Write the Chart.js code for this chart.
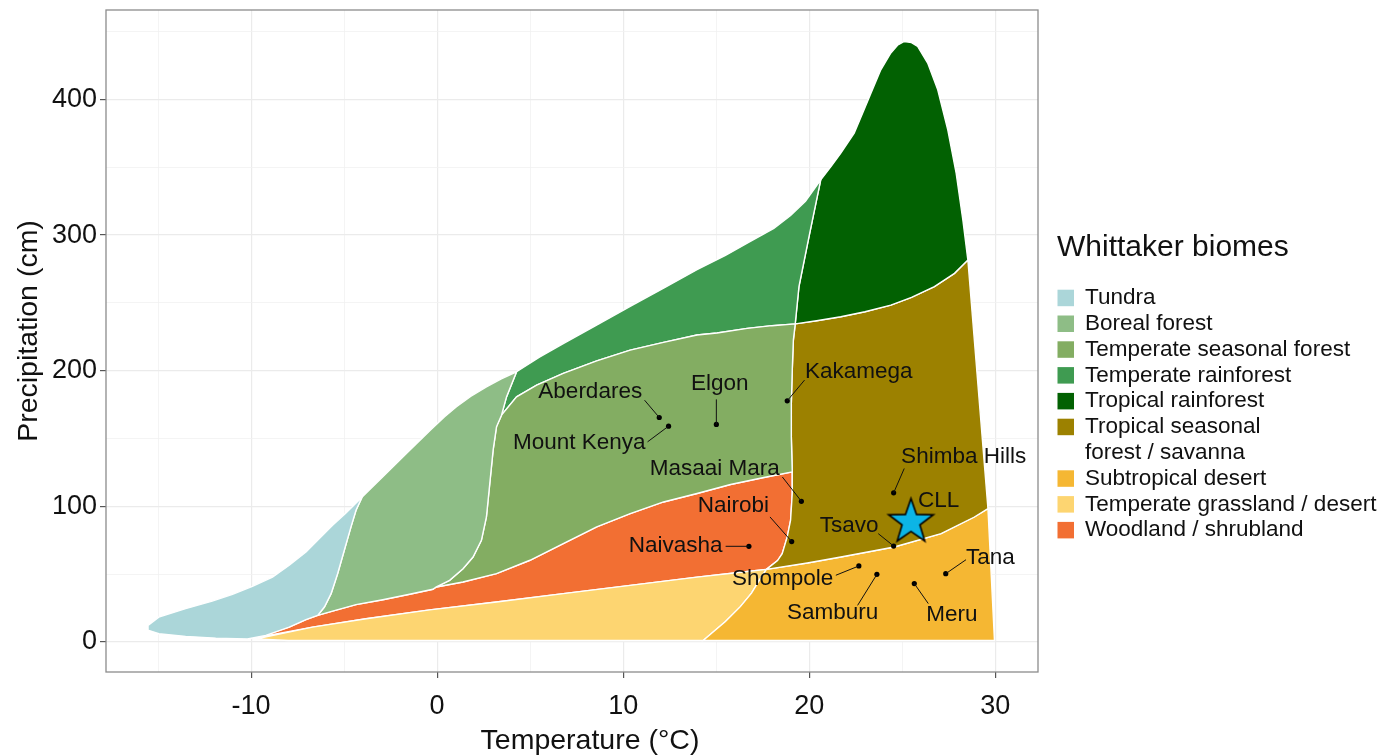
<!DOCTYPE html>
<html>
<head>
<meta charset="utf-8">
<script src="https://cdn.jsdelivr.net/npm/chart.js@4.4.0/dist/chart.umd.min.js"></script>
<style>
html,body{margin:0;padding:0;background:#ffffff;}
#wrap{width:1394px;height:755px;position:relative;}
</style>
</head>
<body>
<div id="wrap"><canvas id="c" width="1394" height="755"></canvas></div>
<script>
// ---------------- DATA ----------------
// Biome outlines: [temperature (°C), precipitation (cm)]
const tundra = [[-15.54,12.2],[-14.96,18.3],[-13.52,24.5],[-12.09,30.1],[-11.0,35.1],[-9.93,41.0],[-8.85,47.8],[-7.95,56.5],[-7.05,66.3],[-6.33,76.2],[-5.62,86.0],[-4.9,95.1],[-4.03,106.9],[-4.36,97.1],[-4.63,84.8],[-4.99,67.6],[-5.35,50.3],[-5.7,35.6],[-6.06,25.7],[-6.42,19.6],[-7.05,16.4],[-7.95,10.9],[-9.21,4.8],[-10.2,2.1],[-11.9,2.8],[-13.52,4.1],[-14.96,6.0],[-15.5,8.5]];
const borealForest = [[-6.42,19.6],[-6.06,25.7],[-5.7,35.6],[-5.35,50.3],[-4.99,67.6],[-4.63,84.8],[-4.36,97.1],[-4.03,106.9],[-2.92,121.8],[-1.5,141.0],[-0.3,157.0],[0.4,166.0],[1.04,173.4],[1.8,181.0],[2.65,188.1],[3.45,194.0],[4.27,199.2],[3.73,180.7],[3.46,167.2],[3.19,158.6],[3.01,141.4],[2.83,116.8],[2.65,92.1],[2.38,74.9],[1.93,62.6],[1.39,54.0],[0.67,45.4],[-0.04,40.5],[-0.23,38.8],[-1.48,35.1],[-2.92,31.1],[-4.36,27.5],[-5.62,22.7]];
const temperateSeasonalForest = [[-0.04,40.5],[0.67,45.4],[1.39,54.0],[1.93,62.6],[2.38,74.9],[2.65,92.1],[2.83,116.8],[3.01,141.4],[3.19,158.6],[3.46,167.2],[4.27,180.7],[5.35,189.4],[6.78,198.0],[8.58,207.3],[10.38,215.2],[12.17,220.9],[13.97,226.3],[15.05,227.8],[16.67,231.2],[18.0,233.2],[19.25,234.5],[19.15,222.6],[19.09,200.4],[19.04,175.9],[19.04,151.2],[19.09,125.4],[17.56,121.2],[15.77,116.1],[13.97,109.4],[12.17,103.2],[10.38,94.6],[8.58,84.8],[6.78,72.5],[4.99,60.2],[3.19,50.3],[1.39,44.2]];
const temperateRainforest = [[3.46,167.2],[3.73,180.7],[4.27,199.2],[5.5,210.0],[6.78,220.0],[8.5,233.0],[10.38,247.5],[12.2,261.0],[13.97,274.5],[15.5,285.0],[16.67,294.0],[18.1,305.0],[19.0,314.5],[19.8,325.0],[20.62,340.7],[19.99,298.9],[19.45,262.0],[19.25,234.5],[18.0,233.2],[16.67,231.2],[15.05,227.8],[13.97,226.3],[12.17,220.9],[10.38,215.2],[8.58,207.3],[6.78,198.0],[5.35,189.4],[4.27,180.7]];
const tropicalRainforest = [[19.25,234.5],[19.45,262.0],[19.99,298.9],[20.62,340.7],[21.2,351.0],[21.7,360.4],[22.42,375.2],[22.95,392.4],[23.32,404.7],[23.85,421.9],[24.39,434.3],[24.75,440.0],[25.11,442.8],[25.5,442.0],[25.83,439.1],[26.37,426.9],[26.91,407.2],[27.45,377.6],[27.9,345.7],[28.26,311.2],[28.53,281.6],[27.81,271.8],[26.73,262.0],[25.5,254.0],[24.39,248.4],[23.0,243.5],[21.7,239.8],[20.4,236.8]];
const tropicalSeasonalForest = [[17.7,53.5],[18.3,60.0],[18.55,65.1],[18.82,77.4],[19.0,89.7],[19.09,109.4],[19.09,125.4],[19.04,151.2],[19.04,175.9],[19.09,200.4],[19.15,222.6],[19.25,234.5],[20.4,236.8],[21.7,239.8],[23.0,243.5],[24.39,248.4],[25.5,254.0],[26.73,262.0],[27.81,271.8],[28.53,281.6],[29.61,98.3],[28.88,92.1],[27.09,79.9],[24.57,70.0],[21.7,62.6],[19.9,58.2]];
const subtropicalDesert = [[17.7,53.5],[19.9,58.2],[21.7,62.6],[24.57,70.0],[27.09,79.9],[28.88,92.1],[29.61,98.3],[29.96,1.0],[14.3,1.0],[14.9,8.0],[15.5,15.0],[16.3,26.0],[16.9,36.0],[17.3,45.0]];
const temperateGrassland = [[-9.7,2.2],[-6.7,10.9],[-3.82,17.1],[-0.4,23.6],[3.19,29.4],[6.78,35.6],[10.38,41.7],[13.97,47.8],[16.2,51.2],[17.7,53.5],[17.3,45.0],[16.9,36.0],[16.3,26.0],[15.5,15.0],[14.9,8.0],[14.3,1.0],[-8.0,1.0]];
const woodlandShrubland = [[-9.6,3.4],[-7.95,10.9],[-7.05,16.4],[-6.42,19.6],[-5.62,22.7],[-4.36,27.5],[-2.92,31.1],[-1.48,35.1],[-0.23,38.8],[-0.04,40.5],[1.39,44.2],[3.19,50.3],[4.99,60.2],[6.78,72.5],[8.58,84.8],[10.38,94.6],[12.17,103.2],[13.97,109.4],[15.77,116.1],[17.56,121.2],[19.09,125.4],[19.09,109.4],[19.0,89.7],[18.82,77.4],[18.55,65.1],[18.3,60.0],[17.7,53.5],[16.2,51.2],[13.97,47.8],[10.38,41.7],[6.78,35.6],[3.19,29.4],[-0.4,23.6],[-3.82,17.1],[-6.7,10.9]];

const biomeNames = ["Tundra","Boreal forest","Temperate seasonal forest","Temperate rainforest","Tropical rainforest",["Tropical seasonal","forest / savanna"],"Subtropical desert","Temperate grassland / desert","Woodland / shrubland"];
const biomeOutlines = [tundra, borealForest, temperateSeasonalForest, temperateRainforest, tropicalRainforest, tropicalSeasonalForest, subtropicalDesert, temperateGrassland, woodlandShrubland];

// Study sites
const siteNames = ["Aberdares","Mount Kenya","Elgon","Kakamega","Masaai Mara","Nairobi","Naivasha","Tsavo","Shimba Hills","Shompole","Samburu","Meru","Tana"];
const siteTemp = [11.94,12.44,15.01,18.82,19.58,19.06,16.76,24.54,24.54,22.67,23.64,25.65,27.34];
const sitePrecip = [165.5,159.1,160.4,177.8,103.7,74.0,70.5,70.7,109.9,56.0,49.8,43.0,50.3];
const cllName = "CLL";
const cllTemp = [25.47];
const cllPrecip = [88.4];

// Axis ticks
const xTickLabels = [-10,0,10,20,30];
const xMinorTicks = [-15,-5,5,15,25];
const yTickLabels = [0,100,200,300,400];
const yMinorTicks = [50,150,250,350,450];

// ---------------- STYLE / LAYOUT ----------------
const biomeColors = ["#abd6d9","#8ebd86","#83ad62","#3f9b51","#026102","#9c8100","#f5b733","#fdd571","#f26f33"];
const FONT = '"Liberation Sans", Arial, Helvetica, sans-serif';
// label placement (pixel offsets from the site point): text centre, leader start
const labelOffsets = [[-69,-25.6],[-89.3,16.7],[3.3,-41],[71.6,-29],[-86.7,-32.7],[-58.3,-35.3],[-73.3,-1],[-44.4,-20.7],[70,-36],[-76.3,12.6],[-44.3,38.7],[37.7,31.7],[44.6,-16]];
const leaderStarts = [[-14.7,-17.3],[-21,15.7],[0,-25],[17.3,-20.7],[-19,-24.3],[-21.7,-24.6],[-23.3,0],[-15.4,-12.4],[10.6,-24.4],[-23,9.3],[-19.3,31],[14,20],[20.3,-14]];
const cllLabelOffset = [27.7,-21];

// star marker image
function makeStar(R){
  const size = Math.ceil(R*2+6);
  const cv = document.createElement('canvas');
  cv.width = size; cv.height = size;
  const g = cv.getContext('2d');
  const cx = size/2, cy = size/2, r = R*0.40;
  g.beginPath();
  for(let i=0;i<10;i++){
    const ang = -Math.PI/2 + i*Math.PI/5;
    const rad = (i%2===0)?R:r;
    const px = cx + rad*Math.cos(ang), py = cy + rad*Math.sin(ang);
    if(i===0) g.moveTo(px,py); else g.lineTo(px,py);
  }
  g.closePath();
  g.fillStyle = '#0cb5e6';
  g.fill();
  g.lineWidth = 1.6;
  g.strokeStyle = '#000';
  g.lineJoin = 'miter';
  g.stroke();
  return cv;
}
const starImg = makeStar(23.5);

const toXY = arr => arr.map(([t,p]) => ({x:t, y:p}));

const datasets = [];
datasets.push({
  label: cllName, data: cllTemp.map((t,i)=>({x:t,y:cllPrecip[i]})),
  pointStyle: starImg, pointRadius: 24, showLine:false, order:0, clip:false
});
datasets.push({
  label: 'sites', data: siteTemp.map((t,i)=>({x:t,y:sitePrecip[i]})),
  pointStyle:'circle', pointRadius:2.6, pointBackgroundColor:'#000', pointBorderWidth:0, showLine:false, order:1
});
biomeOutlines.forEach((poly,i)=>{
  const pts = toXY(poly);
  pts.push({x:poly[0][0], y:poly[0][1]});
  datasets.push({
    label: Array.isArray(biomeNames[i]) ? biomeNames[i].join(' ') : biomeNames[i],
    data: pts, showLine:true, fill:'shape', tension:0,
    backgroundColor: biomeColors[i], borderColor:'#ffffff', borderWidth:1.4,
    pointRadius:0, order:2
  });
});

const isMajorX = v => xTickLabels.includes(v);
const isMajorY = v => yTickLabels.includes(v);

const decorPlugin = {
  id:'decor',
  afterDatasetsDraw(chart){
    const {ctx, chartArea:a, scales:{x,y}} = chart;
    ctx.save();
    // panel border
    ctx.strokeStyle = '#8c8c8c'; ctx.lineWidth = 1.3;
    ctx.strokeRect(a.left, a.top, a.right-a.left, a.bottom-a.top);
    // site labels & leaders
    ctx.font = '22.5px ' + FONT;
    ctx.fillStyle = '#111'; ctx.strokeStyle = '#111'; ctx.lineWidth = 1;
    ctx.textAlign = 'center'; ctx.textBaseline = 'middle';
    siteNames.forEach((n,i)=>{
      const px = x.getPixelForValue(siteTemp[i]), py = y.getPixelForValue(sitePrecip[i]);
      const [lx,ly] = labelOffsets[i], [sx,sy] = leaderStarts[i];
      ctx.beginPath(); ctx.moveTo(px+sx, py+sy); ctx.lineTo(px, py); ctx.stroke();
      ctx.fillText(n, px+lx, py+ly);
    });
    const cx = x.getPixelForValue(cllTemp[0]), cy = y.getPixelForValue(cllPrecip[0]);
    ctx.fillText(cllName, cx+cllLabelOffset[0], cy+cllLabelOffset[1]);
    ctx.restore();
  },
  afterDraw(chart){
    const {ctx} = chart;
    ctx.save();
    ctx.fillStyle = '#111';
    // axis titles
    ctx.font = '28.5px ' + FONT;
    ctx.textAlign = 'center'; ctx.textBaseline = 'middle';
    ctx.fillText('Temperature (°C)', 590, 741);
    ctx.translate(29, 331); ctx.rotate(-Math.PI/2);
    ctx.fillText('Precipitation (cm)', 0, 0);
    ctx.setTransform(1,0,0,1,0,0);
    // legend
    ctx.textAlign = 'left';
    ctx.font = '30px ' + FONT;
    ctx.fillText('Whittaker biomes', 1057, 248);
    ctx.font = '22.5px ' + FONT;
    let row = 0;
    const y0 = 298, dy = 25.8;
    biomeNames.forEach((n,i)=>{
      const yy = y0 + row*dy;
      ctx.fillStyle = biomeColors[i];
      ctx.fillRect(1057.5, yy-8.3, 16.5, 16.5);
      ctx.fillStyle = '#111';
      const lines = Array.isArray(n) ? n : [n];
      lines.forEach((ln,k)=>{ ctx.fillText(ln, 1085, yy + k*dy); });
      row += lines.length;
    });
    ctx.restore();
  }
};

new Chart(document.getElementById('c'), {
  type:'scatter',
  data:{datasets},
  options:{
    responsive:false, animation:false, devicePixelRatio:1,
    layout:{autoPadding:false, padding:{left:0, top:10, right:356, bottom:0}},
    plugins:{legend:{display:false}, tooltip:{enabled:false}},
    events:[],
    scales:{
      x:{
        type:'linear', min:-17.8, max:32.3,
        afterBuildTicks: s => { s.ticks = xTickLabels.concat(xMinorTicks).sort((a,b)=>a-b).map(v=>({value:v})); },
        afterFit: s => { s.height = 83; s.paddingLeft = 0; s.paddingRight = 0; },
        border:{display:false},
        grid:{
          color: c => (c.tick && isMajorX(c.tick.value)) ? '#ebebeb' : '#f1f1f1',
          lineWidth: c => (c.tick && isMajorX(c.tick.value)) ? 1.2 : 0.8,
          tickColor: c => (c.tick && isMajorX(c.tick.value)) ? '#555555' : 'rgba(0,0,0,0)',
          tickLength:6, tickWidth:1.2, drawTicks:true
        },
        ticks:{
          autoSkip:false, maxRotation:0, padding:12, color:'#111',
          font:{size:27, family:FONT},
          callback: v => isMajorX(v) ? String(v) : ''
        }
      },
      y:{
        type:'linear', min:-22.2, max:466,
        afterBuildTicks: s => { s.ticks = yTickLabels.concat(yMinorTicks).sort((a,b)=>a-b).map(v=>({value:v})); },
        afterFit: s => { s.width = 106; s.paddingTop = 0; s.paddingBottom = 0; },
        border:{display:false},
        grid:{
          color: c => (c.tick && isMajorY(c.tick.value)) ? '#ebebeb' : '#f1f1f1',
          lineWidth: c => (c.tick && isMajorY(c.tick.value)) ? 1.2 : 0.8,
          tickColor: c => (c.tick && isMajorY(c.tick.value)) ? '#555555' : 'rgba(0,0,0,0)',
          tickLength:6, tickWidth:1.2, drawTicks:true
        },
        ticks:{
          autoSkip:false, padding:3, color:'#111',
          font:{size:27, family:FONT},
          callback: v => isMajorY(v) ? String(v) : ''
        }
      }
    }
  },
  plugins:[decorPlugin]
});
</script>
</body>
</html>
